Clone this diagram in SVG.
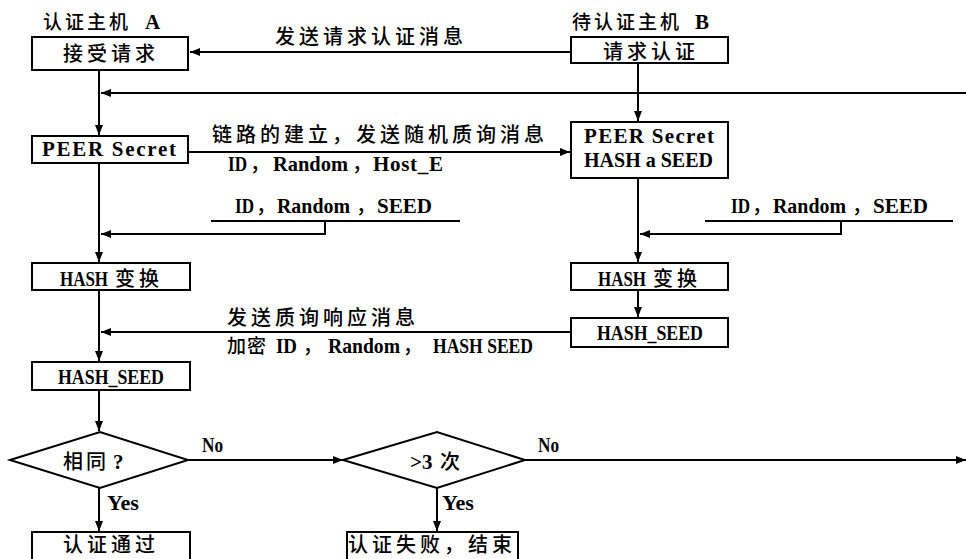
<svg xmlns="http://www.w3.org/2000/svg" width="966" height="559" viewBox="0 0 966 559">
<style>
.c{font-family:"Noto Sans CJK SC","Liberation Serif",sans-serif;font-size:20px;font-weight:500;letter-spacing:4px;fill:#000}
.l{font-family:"Liberation Serif","Noto Sans CJK SC",serif;font-size:21px;font-weight:bold;letter-spacing:0;fill:#000}
.p{letter-spacing:0}
.box{fill:#fff;stroke:#000;stroke-width:2}
.ln{fill:none;stroke:#000;stroke-width:2}
</style>
<defs>
<marker id="ah" viewBox="0 0 10 10" refX="10" refY="5" markerWidth="10" markerHeight="10" markerUnits="userSpaceOnUse" orient="auto">
<path d="M0,1 L10,5 L0,9 Z" fill="#000"/>
</marker>
</defs>
<rect width="966" height="559" fill="#fff"/>

<g id="connectors">
<line class="ln" x1="571" y1="52" x2="190" y2="52" marker-end="url(#ah)"/>
<line class="ln" x1="966" y1="93" x2="101" y2="93" marker-end="url(#ah)"/>
<line class="ln" x1="99" y1="70" x2="99" y2="135" marker-end="url(#ah)"/>
<line class="ln" x1="638" y1="63" x2="638" y2="121" marker-end="url(#ah)"/>
<line class="ln" x1="188" y1="152" x2="570" y2="152" marker-end="url(#ah)"/>
<line class="ln" x1="99" y1="163" x2="99" y2="262" marker-end="url(#ah)"/>
<line class="ln" x1="211" y1="221" x2="460" y2="221"/>
<polyline class="ln" points="325,221 325,234 101,234" marker-end="url(#ah)"/>
<line class="ln" x1="638" y1="178" x2="638" y2="262" marker-end="url(#ah)"/>
<line class="ln" x1="705" y1="221" x2="953" y2="221"/>
<polyline class="ln" points="841,221 841,234 640,234" marker-end="url(#ah)"/>
<line class="ln" x1="638" y1="290" x2="638" y2="317" marker-end="url(#ah)"/>
<line class="ln" x1="571" y1="332" x2="101" y2="332" marker-end="url(#ah)"/>
<line class="ln" x1="99" y1="290" x2="99" y2="361" marker-end="url(#ah)"/>
<line class="ln" x1="99" y1="390" x2="99" y2="431" marker-end="url(#ah)"/>
<line class="ln" x1="188" y1="460" x2="343" y2="460" marker-end="url(#ah)"/>
<line class="ln" x1="525" y1="460" x2="966" y2="460" marker-end="url(#ah)"/>
<line class="ln" x1="99" y1="488" x2="99" y2="531" marker-end="url(#ah)"/>
<line class="ln" x1="437" y1="488" x2="437" y2="531" marker-end="url(#ah)"/>
</g>

<g id="labels">
<text class="c" x="43" y="29" style="font-size:19px;letter-spacing:3px">认证主机 <tspan class="l" x="145">A</tspan></text>
<text class="c" x="572" y="29" style="font-size:19px;letter-spacing:3px">待认证主机 <tspan class="l" x="695">B</tspan></text>
<text class="c" x="275" y="44">发送请求认证消息</text>
<text class="c" x="212" y="142">链路的建立，发送随机质询消息</text>
<text class="c" x="228" y="171"><tspan class="l" textLength="19" lengthAdjust="spacingAndGlyphs">ID</tspan><tspan class="p" x="250">，</tspan><tspan class="l" x="273" textLength="75" lengthAdjust="spacingAndGlyphs">Random</tspan><tspan class="p" x="352">，</tspan><tspan class="l" x="373" textLength="70">Host_E</tspan></text>
<text class="c" x="235" y="213"><tspan class="l" textLength="19" lengthAdjust="spacingAndGlyphs">ID</tspan><tspan class="p" x="256">，</tspan><tspan class="l" x="277" textLength="73" lengthAdjust="spacingAndGlyphs">Random</tspan><tspan class="p" x="356">，</tspan><tspan class="l" x="377" textLength="55" lengthAdjust="spacingAndGlyphs">SEED</tspan></text>
<text class="c" x="731" y="213"><tspan class="l" textLength="19" lengthAdjust="spacingAndGlyphs">ID</tspan><tspan class="p" x="752">，</tspan><tspan class="l" x="773" textLength="73" lengthAdjust="spacingAndGlyphs">Random</tspan><tspan class="p" x="852">，</tspan><tspan class="l" x="873" textLength="55" lengthAdjust="spacingAndGlyphs">SEED</tspan></text>
<text class="c" x="227" y="325">发送质询响应消息</text>
<text class="c" x="227" y="353" style="font-size:19px;letter-spacing:1px">加密 <tspan class="l" x="276" textLength="21" lengthAdjust="spacingAndGlyphs">ID</tspan><tspan class="p" x="303">，</tspan><tspan class="l" x="328" textLength="72" lengthAdjust="spacingAndGlyphs">Random</tspan><tspan class="p" x="403">，</tspan><tspan class="l" x="433" textLength="100" lengthAdjust="spacingAndGlyphs">HASH SEED</tspan></text>
<text class="l" x="202" y="452" textLength="21" lengthAdjust="spacingAndGlyphs">No</text>
<text class="l" x="538" y="452" textLength="21" lengthAdjust="spacingAndGlyphs">No</text>
<text class="l" x="107" y="510" textLength="32" lengthAdjust="spacingAndGlyphs">Yes</text>
<text class="l" x="442" y="510" textLength="32" lengthAdjust="spacingAndGlyphs">Yes</text>
</g>

<g id="n-accept">
<rect class="box" x="32" y="37" width="156" height="33"/>
<text class="c" x="63" y="61">接受请求</text>
</g>
<g id="n-request">
<rect class="box" x="571" y="37" width="157" height="26"/>
<text class="c" x="603" y="59">请求认证</text>
</g>
<g id="n-peer-a">
<rect class="box" x="32" y="136" width="156" height="27"/>
<text class="l" x="42" y="156" textLength="134">PEER Secret</text>
</g>
<g id="n-peer-b">
<rect class="box" x="571" y="122" width="157" height="56"/>
<text class="l" x="584" y="143" textLength="130">PEER Secret</text>
<text class="l" x="584" y="167" textLength="129" lengthAdjust="spacingAndGlyphs">HASH a SEED</text>
</g>
<g id="n-hash-a">
<rect class="box" x="32" y="263" width="158" height="27"/>
<text class="c" x="115" y="286"><tspan class="l" x="60" textLength="48" lengthAdjust="spacingAndGlyphs">HASH</tspan> <tspan x="115">变换</tspan></text>
</g>
<g id="n-hash-b">
<rect class="box" x="571" y="263" width="157" height="27"/>
<text class="c" x="653" y="286"><tspan class="l" x="598" textLength="48" lengthAdjust="spacingAndGlyphs">HASH</tspan> <tspan x="653">变换</tspan></text>
</g>
<g id="n-seed-b">
<rect class="box" x="571" y="318" width="157" height="29"/>
<text class="l" x="597" y="340" textLength="106" lengthAdjust="spacingAndGlyphs">HASH_SEED</text>
</g>
<g id="n-seed-a">
<rect class="box" x="32" y="362" width="158" height="28"/>
<text class="l" x="58" y="384" textLength="106" lengthAdjust="spacingAndGlyphs">HASH_SEED</text>
</g>
<g id="n-same">
<polygon class="box" points="10,460 100,432 188,460 100,488"/>
<text class="c" x="63" y="469" style="letter-spacing:3px">相同<tspan class="l" x="113">?</tspan></text>
</g>
<g id="n-gt3">
<polygon class="box" points="343,460 437,432 525,460 437,488"/>
<text class="c" x="440" y="469"><tspan class="l" x="410">&gt;3</tspan> <tspan x="440">次</tspan></text>
</g>
<g id="n-pass">
<rect class="box" x="32" y="532" width="158" height="32"/>
<text class="c" x="63" y="552">认证通过</text>
</g>
<g id="n-fail">
<rect class="box" x="347" y="532" width="171" height="32"/>
<text class="c" x="348" y="552">认证失败，结束</text>
</g>
</svg>
